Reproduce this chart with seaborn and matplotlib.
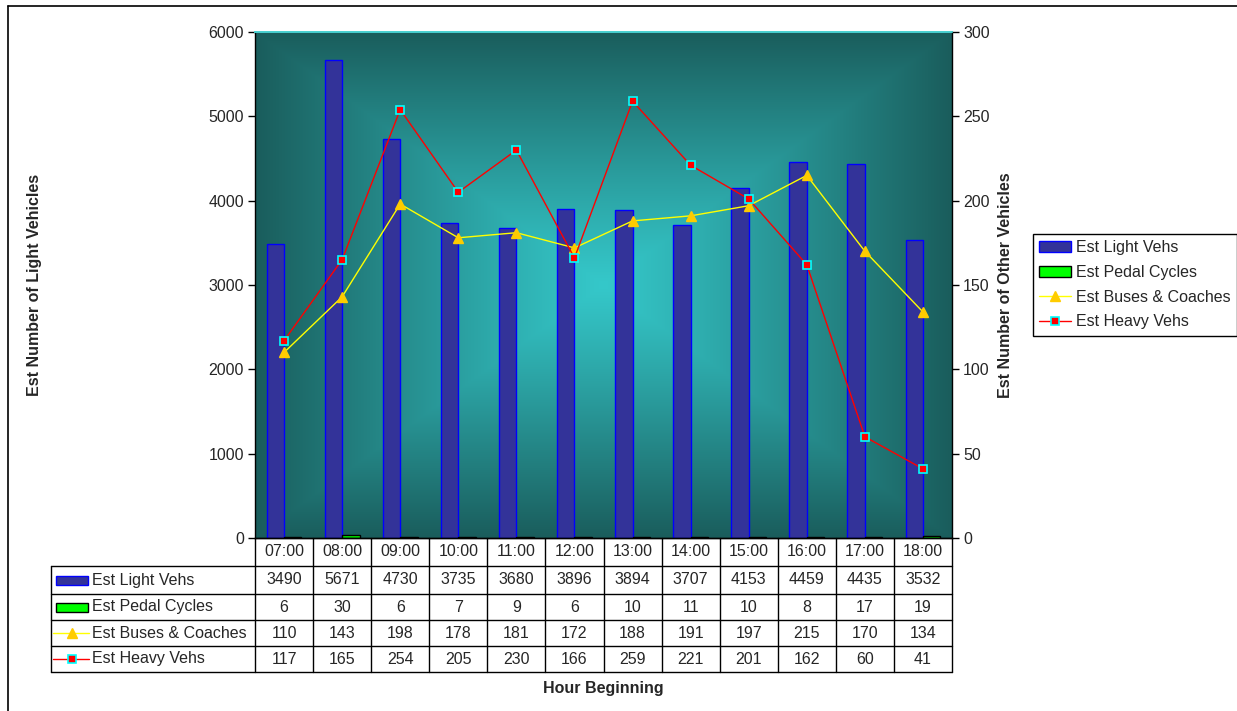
import numpy as np
import pandas as pd
import matplotlib
matplotlib.use("Agg")
import matplotlib.pyplot as plt
import matplotlib.transforms as mtransforms
from matplotlib.colors import to_rgb
from matplotlib.lines import Line2D
from matplotlib.patches import Rectangle, Patch
import seaborn as sns

# ---- data ----
hours = ["07:00", "08:00", "09:00", "10:00", "11:00", "12:00",
         "13:00", "14:00", "15:00", "16:00", "17:00", "18:00"]
light_vehs = [3490, 5671, 4730, 3735, 3680, 3896, 3894, 3707, 4153, 4459, 4435, 3532]
pedal_cycles = [6, 30, 6, 7, 9, 6, 10, 11, 10, 8, 17, 19]
buses_coaches = [110, 143, 198, 178, 181, 172, 188, 191, 197, 215, 170, 134]
heavy_vehs = [117, 165, 254, 205, 230, 166, 259, 221, 201, 162, 60, 41]

series_names = ["Est Light Vehs", "Est Pedal Cycles", "Est Buses & Coaches", "Est Heavy Vehs"]
left_ticks = list(range(0, 7000, 1000))
right_ticks = list(range(0, 350, 50))

# ---- styles ----
C_LIGHT, C_LIGHT_EDGE = "#333399", "#0000ff"
C_PEDAL, C_PEDAL_EDGE = "#00ff00", "#000000"
C_BUS_LINE, C_BUS_MARK = "#ffff00", "#ffcc00"
C_HEAVY_LINE, C_HEAVY_EDGE = "#ff0000", "#00ffff"
FS = 11.5

sns.set_theme(style="white")
plt.rcParams["font.family"] = ["Liberation Sans", "DejaVu Sans"]
plt.rcParams["font.size"] = FS

W, H = 1237, 711
fig = plt.figure(figsize=(W / 100, H / 100), dpi=100)
fig.patch.set_facecolor("white")


def fx(px):
    return px / W


def fy(py):
    return 1 - py / H


L, R, T, B = 255, 952, 32, 538
rect = [fx(L), fy(B), fx(R) - fx(L), fy(T) - fy(B)]

# gradient backdrop: bright teal centre fading to dark teal at the edges
bg = fig.add_axes(rect, zorder=0)
n = 500
u = np.linspace(-1, 1, n)
X, Y = np.meshgrid(u, u)
t = np.maximum(np.abs(X), np.abs(Y)) ** 1.1
c0 = np.array(to_rgb("#35c8ca"))
c1 = np.array(to_rgb("#1a5d5c"))
img = c0 + (c1 - c0) * t[..., None]
bg.imshow(img, extent=[0, 1, 0, 1], aspect="auto", interpolation="bilinear")
bg.set_axis_off()

ax = fig.add_axes(rect, zorder=1)
ax.patch.set_alpha(0)

df_bars = pd.DataFrame({
    "Hour": hours * 2,
    "Count": light_vehs + pedal_cycles,
    "Series": [series_names[0]] * len(hours) + [series_names[1]] * len(hours),
})
sns.barplot(data=df_bars, x="Hour", y="Count", hue="Series", order=hours,
            hue_order=series_names[:2],
            palette={series_names[0]: C_LIGHT, series_names[1]: C_PEDAL},
            width=0.6, saturation=1, linewidth=1, legend=False, ax=ax)
for bar in ax.containers[0]:
    bar.set_edgecolor(C_LIGHT_EDGE)
for bar in ax.containers[1]:
    bar.set_edgecolor(C_PEDAL_EDGE)

ax.set_xlim(-0.5, len(hours) - 0.5)
ax.set_ylim(0, 6000)
ax.set_yticks(left_ticks)
ax.set_xticks([])
ax.set_xlabel("")
ax.set_ylabel("")
ax.tick_params(axis="y", left=True, direction="out", length=5, width=1,
               color="black", labelsize=FS, pad=3)

ax2 = ax.twinx()
ax2.patch.set_alpha(0)
sns.pointplot(x=hours, y=buses_coaches, order=hours, ax=ax2, color=C_BUS_LINE,
              markers="^", linestyles="-", errorbar=None,
              markersize=7, markerfacecolor=C_BUS_MARK, markeredgecolor=C_BUS_MARK,
              markeredgewidth=1, linewidth=1)
sns.pointplot(x=hours, y=heavy_vehs, order=hours, ax=ax2, color=C_HEAVY_LINE,
              markers="s", linestyles="-", errorbar=None,
              markersize=6, markerfacecolor=C_HEAVY_LINE, markeredgecolor=C_HEAVY_EDGE,
              markeredgewidth=1.2, linewidth=1)
ax2.set_xlim(-0.5, len(hours) - 0.5)
ax2.set_ylim(0, 300)
ax2.set_yticks(right_ticks)
ax2.set_xticks([])
ax2.set_xlabel("")
ax2.set_ylabel("")
ax2.tick_params(axis="y", right=True, direction="out", length=5, width=1,
                color="black", labelsize=FS, pad=3)

for a in (ax, ax2):
    for side in ("left", "right", "bottom"):
        a.spines[side].set_color("black")
        a.spines[side].set_linewidth(1)
    a.spines["top"].set_color("#48d0d0")
    a.spines["top"].set_linewidth(1.2)
ax2.spines["left"].set_visible(False)
ax.spines["right"].set_visible(False)

# ---- data table under the plot ----
row_edges = [538, 566, 594, 620, 646, 672]
key_left = 51
blend = mtransforms.blended_transform_factory(ax.transData, fig.transFigure)
lw_tab = 1

for i in range(len(hours) + 1):
    fig.add_artist(Line2D([i - 0.5, i - 0.5], [fy(row_edges[0]), fy(row_edges[-1])],
                          transform=blend, color="black", lw=lw_tab))
right_x_fig = fx(R)
for yy in row_edges[1:]:
    fig.add_artist(Line2D([fx(key_left), right_x_fig], [fy(yy), fy(yy)],
                          transform=fig.transFigure, color="black", lw=lw_tab))
fig.add_artist(Line2D([fx(key_left), fx(key_left)], [fy(row_edges[1]), fy(row_edges[-1])],
                      transform=fig.transFigure, color="black", lw=lw_tab))

for i, h in enumerate(hours):
    yc = fy((row_edges[0] + row_edges[1]) / 2)
    fig.text(i, yc, h, transform=blend, ha="center", va="center", fontsize=FS)

table_rows = [light_vehs, pedal_cycles, buses_coaches, heavy_vehs]
for r, vals in enumerate(table_rows):
    yc = fy((row_edges[r + 1] + row_edges[r + 2]) / 2)
    for i, v in enumerate(vals):
        fig.text(i, yc, str(v), transform=blend, ha="center", va="center", fontsize=FS)
    fig.text(fx(92), yc, series_names[r], ha="left", va="center", fontsize=FS)

# legend keys inside the table
k0, k1 = 56, 88
kh = 9
for r, (fc, ec) in enumerate([(C_LIGHT, C_LIGHT_EDGE), (C_PEDAL, C_PEDAL_EDGE)]):
    yc = (row_edges[r + 1] + row_edges[r + 2]) / 2
    fig.add_artist(Rectangle((fx(k0), fy(yc + kh / 2)), fx(k1) - fx(k0), kh / H,
                             transform=fig.transFigure, facecolor=fc, edgecolor=ec, lw=1))
yc = (row_edges[3] + row_edges[4]) / 2
fig.add_artist(Line2D([fx(k0 - 3), fx(k1 + 1)], [fy(yc), fy(yc)], transform=fig.transFigure,
                      color=C_BUS_LINE, lw=1))
fig.add_artist(Line2D([fx((k0 + k1) / 2)], [fy(yc)], transform=fig.transFigure, marker="^",
                      ms=7, mfc=C_BUS_MARK, mec=C_BUS_MARK, lw=0))
yc = (row_edges[4] + row_edges[5]) / 2
fig.add_artist(Line2D([fx(k0 - 3), fx(k1 + 1)], [fy(yc), fy(yc)], transform=fig.transFigure,
                      color=C_HEAVY_LINE, lw=1))
fig.add_artist(Line2D([fx((k0 + k1) / 2)], [fy(yc)], transform=fig.transFigure, marker="s",
                      ms=6, mfc=C_HEAVY_LINE, mec=C_HEAVY_EDGE, mew=1.2, lw=0))

# ---- axis titles ----
fig.text(fx(35), fy((T + B) / 2), "Est Number of Light Vehicles", rotation=90,
         ha="center", va="center", fontsize=FS, fontweight="bold")
fig.text(fx(1005), fy((T + B) / 2), "Est Number of Other Vehicles", rotation=90,
         ha="center", va="center", fontsize=FS, fontweight="bold")
fig.text(fx((L + R) / 2), fy(688), "Hour Beginning", ha="center", va="center",
         fontsize=FS, fontweight="bold")

# ---- legend ----
handles = [
    Patch(facecolor=C_LIGHT, edgecolor=C_LIGHT_EDGE, lw=1),
    Patch(facecolor=C_PEDAL, edgecolor=C_PEDAL_EDGE, lw=1),
    Line2D([], [], color=C_BUS_LINE, lw=1, marker="^", ms=7, mfc=C_BUS_MARK, mec=C_BUS_MARK),
    Line2D([], [], color=C_HEAVY_LINE, lw=1, marker="s", ms=6, mfc=C_HEAVY_LINE,
           mec=C_HEAVY_EDGE, mew=1.2),
]
leg = fig.legend(handles, series_names, loc="upper left",
                 bbox_to_anchor=(fx(1033), fy(234)), frameon=True, fancybox=False,
                 edgecolor="black", framealpha=1, fontsize=FS, handlelength=2.0,
                 handleheight=0.7, handletextpad=0.3, labelspacing=0.6,
                 borderpad=0.4, borderaxespad=0)
leg.get_frame().set_linewidth(1)

# ---- outer chart border ----
fig.add_artist(Line2D([fx(8), fx(8)], [fy(6), 0], transform=fig.transFigure,
                      color="black", lw=1.2))
fig.add_artist(Line2D([fx(8), 1], [fy(6), fy(6)], transform=fig.transFigure,
                      color="black", lw=1.2))

fig.savefig("out.png", dpi=100, facecolor="white")
